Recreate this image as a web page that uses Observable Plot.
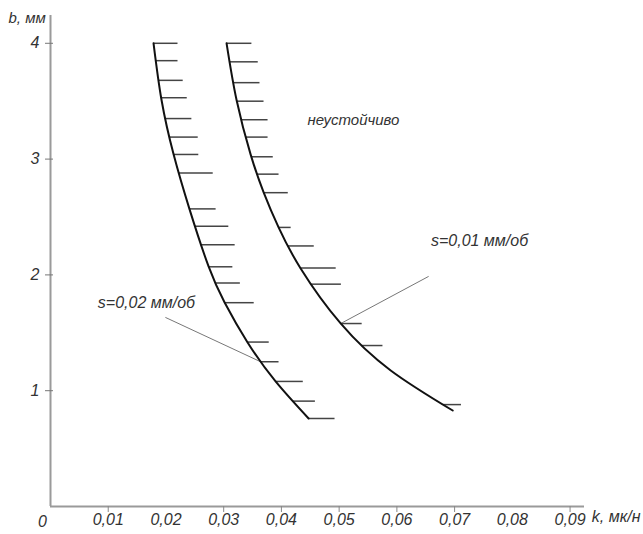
<!DOCTYPE html>
<html><head><meta charset="utf-8">
<script src="https://cdn.jsdelivr.net/npm/d3@7"></script>
<script src="https://cdn.jsdelivr.net/npm/@observablehq/plot@0.6"></script>
<style>
body{margin:0;background:#fff}
#chart svg{font-family:"Liberation Sans","DejaVu Sans",sans-serif;font-style:italic}
</style>
</head><body><div id="chart"></div>
<script>
// Curve s = 0.02 mm/rev (k, b)
const k002 = [0.01785, 0.01924, 0.02132, 0.02409, 0.02738, 0.03016, 0.03414, 0.03899, 0.04471];
const b002 = [4.000, 3.508, 3.041, 2.566, 2.073, 1.762, 1.417, 1.080, 0.760];
// Curve s = 0.01 mm/rev
const k001 = [0.03050, 0.03224, 0.03466, 0.03692, 0.03951, 0.04333, 0.05026, 0.05893, 0.06967];
const b001 = [4.000, 3.508, 3.041, 2.713, 2.410, 2.056, 1.581, 1.175, 0.829];
// Hatching (b level, right end k)
const hatch002B = [4.00, 3.85, 3.68, 3.53, 3.35, 3.19, 3.04, 2.88, 2.57, 2.42, 2.26, 2.07, 1.93, 1.76, 1.42, 1.25, 1.08, 0.91, 0.76];
const hatch002End = [0.0220, 0.0220, 0.0229, 0.0236, 0.0244, 0.0255, 0.0256, 0.0281, 0.0286, 0.0308, 0.0319, 0.0315, 0.0328, 0.0352, 0.0378, 0.0395, 0.0437, 0.0458, 0.0492];
const hatch001B = [4.00, 3.84, 3.66, 3.50, 3.34, 3.19, 3.02, 2.87, 2.71, 2.41, 2.25, 2.06, 1.92, 1.58, 1.39, 0.88];
const hatch001End = [0.0348, 0.0359, 0.0362, 0.0369, 0.0376, 0.0376, 0.0385, 0.0395, 0.0411, 0.0416, 0.0456, 0.0494, 0.0503, 0.0539, 0.0575, 0.0711];
// Labels and leaders
const seriesLabels = ["s=0,02 мм/об", "s=0,01 мм/об"];
const labelK = [0.0082, 0.0659];
const labelB = [1.76, 2.29];
const leaderK = [0.0199, 0.0655];
const leaderB = [1.633, 1.987];
const leaderEndB = [1.25, 1.58];
const regionLabel = "неустойчиво";
const regionK = 0.0445, regionB = 3.335;
// Axes
const xTickMarks = [0.01, 0.03, 0.04, 0.05, 0.06, 0.07, 0.09];
const xTickLabels = [0.01, 0.02, 0.03, 0.04, 0.05, 0.06, 0.07, 0.08, 0.09];
const yTicks = [1, 2, 3, 4];
const xTitle = "k, мк/н", yTitle = "b, мм";

const curves = [
  {k: k002, b: b002, hb: hatch002B, he: hatch002End},
  {k: k001, b: b001, hb: hatch001B, he: hatch001End}
];
// Dense samples of the natural spline that Plot draws (computed per coordinate, so data space is fine)
function splineSamples(ks, bs) {
  const segs = []; let cur;
  const ctx = {
    moveTo(x, y) { cur = [x, y]; },
    lineTo(x, y) { segs.push([cur, cur, [x, y], [x, y]]); cur = [x, y]; },
    bezierCurveTo(a, b, c, d, x, y) { segs.push([cur, [a, b], [c, d], [x, y]]); cur = [x, y]; },
    closePath() {}
  };
  d3.line().curve(d3.curveNatural).context(ctx)(ks.map((k, i) => [k * 100, bs[i]]));
  const out = [];
  for (const [p0, p1, p2, p3] of segs) {
    for (let t = 0; t <= 1; t += 0.005) {
      const u = 1 - t;
      const f = (i) => u*u*u*p0[i] + 3*u*u*t*p1[i] + 3*u*t*t*p2[i] + t*t*t*p3[i];
      out.push([f(0) / 100, f(1)]);
    }
  }
  return out;
}
curves.forEach(c => c.samples = splineSamples(c.k, c.b));
function kAt(c, b) {
  const s = c.samples;
  for (let i = 0; i < s.length - 1; i++) {
    const b0 = s[i][1], b1 = s[i + 1][1];
    if ((b <= b0 && b >= b1) || (b >= b0 && b <= b1)) {
      const t = b0 === b1 ? 0 : (b - b0) / (b1 - b0);
      return s[i][0] + (s[i + 1][0] - s[i][0]) * t;
    }
  }
  return b > s[0][1] ? s[0][0] : s[s.length - 1][0];
}
const linePts = curves.flatMap((c, ci) => c.k.map((k, i) => ({s: ci, k, b: c.b[i]})));
const hatches = curves.flatMap((c, ci) => c.hb.map((b, i) => ({k1: kAt(c, b), k2: c.he[i], b})));
const leaders = leaderK.map((k, i) => ({k1: k, b1: leaderB[i], k2: kAt(curves[i], leaderEndB[i]), b2: leaderEndB[i]}));
const labels = seriesLabels.map((t, i) => ({t, k: labelK[i], b: labelB[i]}));
const fmt = d => d3.format(".2f")(d).replace(".", ",");

const chart = Plot.plot({
  width: 643, height: 534,
  marginLeft: 50, marginRight: 59, marginTop: 15, marginBottom: 28,
  x: {domain: [0, 0.0925], axis: null},
  y: {domain: [0, 4.24], axis: null},
  style: {fontSize: "16px", color: "#333"},
  marks: [
    Plot.ruleX([0], {stroke: "#9a9a9a", strokeWidth: 2}),
    Plot.ruleY([0], {stroke: "#9a9a9a", strokeWidth: 2}),
    Plot.axisX({ticks: xTickMarks, tickSize: 6, tickFormat: () => "", stroke: "#888"}),
    Plot.axisX({ticks: xTickLabels, tickSize: 0, tickPadding: 7, tickFormat: fmt, fontSize: 16, fill: "#333"}),
    Plot.axisY({ticks: yTicks, tickSize: 8, dx: 3, tickPadding: 6, tickFormat: d => String(d), fontSize: 16, fill: "#333", stroke: "#777"}),
    Plot.text([0], {x: 0, y: 0, text: () => "0", dx: -8, dy: 15, fontSize: 16, fill: "#333"}),
    Plot.text([yTitle], {frameAnchor: "top-left", text: d => d, dx: -42, dy: -3, fontSize: 15, fill: "#333"}),
    Plot.text([xTitle], {frameAnchor: "bottom-right", text: d => d, dx: 56, dy: 15, textAnchor: "end", fontSize: 16, fill: "#333", style: "letter-spacing:1.5px"}),
    Plot.link(hatches, {x1: "k1", x2: "k2", y1: "b", y2: "b", stroke: "#444", strokeWidth: 1.5}),
    Plot.link(leaders, {x1: "k1", y1: "b1", x2: "k2", y2: "b2", stroke: "#777", strokeWidth: 1}),
    Plot.line(linePts, {x: "k", y: "b", z: "s", stroke: "#111", strokeWidth: 2, curve: "natural"}),
    Plot.text(labels, {x: "k", y: "b", text: "t", textAnchor: "start", fontSize: 16, fill: "#333"}),
    Plot.text([regionLabel], {x: regionK, y: regionB, text: d => d, textAnchor: "start", fontSize: 15, fill: "#333"})
  ]
});
document.getElementById("chart").appendChild(chart);
</script>
</body></html>
